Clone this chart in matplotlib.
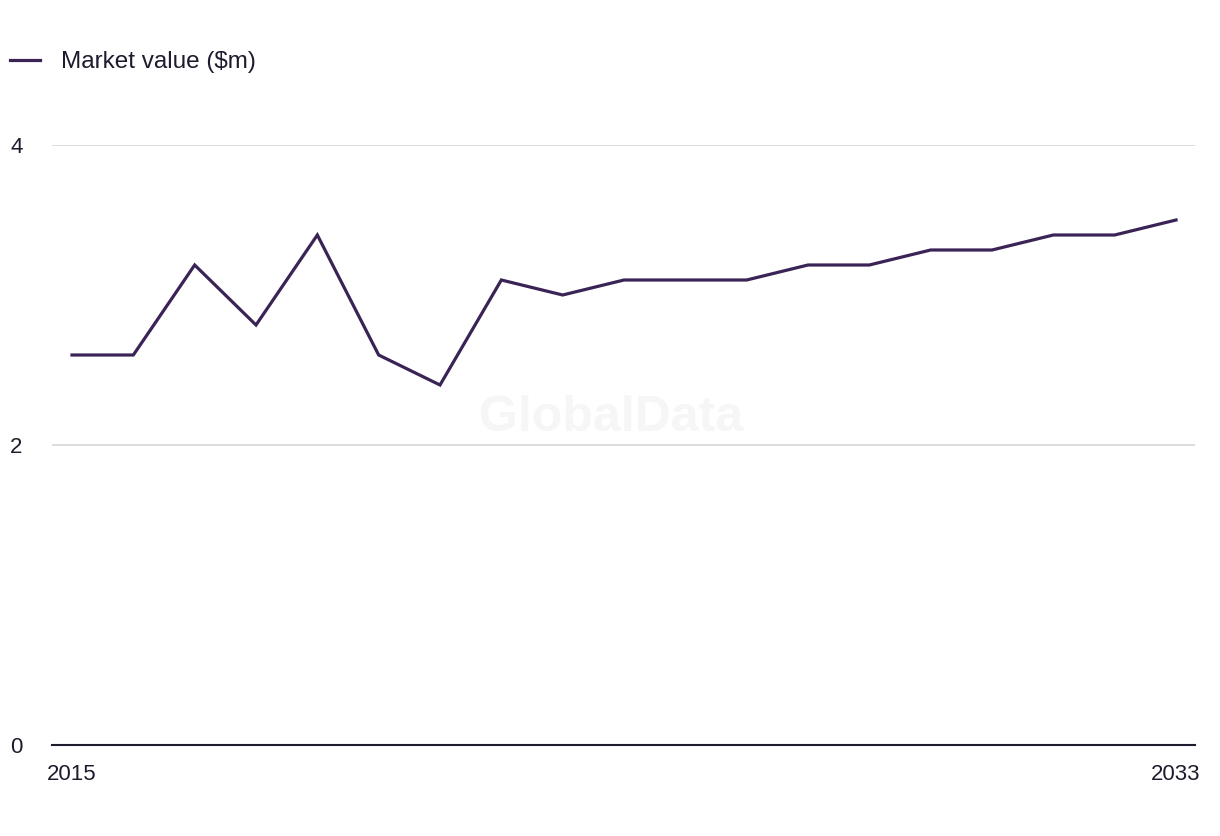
import numpy as np
import matplotlib
matplotlib.use("Agg")
import matplotlib.pyplot as plt

years = list(range(2015, 2034))
values = [2.6, 2.6, 3.2, 2.8, 3.4, 2.6, 2.4, 3.1, 3.0, 3.1,
          3.1, 3.1, 3.2, 3.2, 3.3, 3.3, 3.4, 3.4, 3.5]
yticks = [0, 2, 4]
xtick_years = [2015, 2033]

plt.rcParams['font.family'] = ['Liberation Sans', 'DejaVu Sans']
text_col = '#1c1c2e'
line_col = '#3a2456'

fig = plt.figure(figsize=(12.2, 8.36), dpi=100)
ax = fig.add_axes([52/1220, 91/836, 1143/1220, 600/836])

ax.plot(years, values, color=line_col, lw=2.3, label='Market value ($m)',
        solid_joinstyle='miter', clip_on=False)

ax.set_xlim(2015 - 20/61.33, 2033 + 19/61.33)
ax.set_ylim(0, 4)
ax.set_yticks(yticks)
ax.set_yticklabels([str(t) for t in yticks])
ax.set_xticks(xtick_years)
ax.set_xticklabels([str(t) for t in xtick_years])

for t in ax.get_yticklabels():
    t.set_horizontalalignment('left')
ax.tick_params(axis='y', length=0, pad=30, labelsize=16, labelcolor=text_col)
ax.tick_params(axis='x', length=0, pad=14, labelsize=16, labelcolor=text_col)

ax.grid(axis='y', color='#d6d6d6', lw=1.2)
ax.set_axisbelow(True)
for s in ['top', 'right', 'left']:
    ax.spines[s].set_visible(False)
ax.spines['bottom'].set_color(text_col)
ax.spines['bottom'].set_linewidth(1.5)

ax.text(0.489, 0.545, 'GlobalData', transform=ax.transAxes, ha='center', va='center',
        fontsize=36, fontweight='bold', color='#f6f6f6', zorder=0)

fig.legend(loc='center left', bbox_to_anchor=(10/1220, 1 - 62/836), frameon=False,
           fontsize=17.5, handlelength=1.25, handletextpad=0.85,
           borderpad=0, borderaxespad=0, labelcolor=text_col)

fig.savefig('out.png', dpi=100, facecolor='white')
